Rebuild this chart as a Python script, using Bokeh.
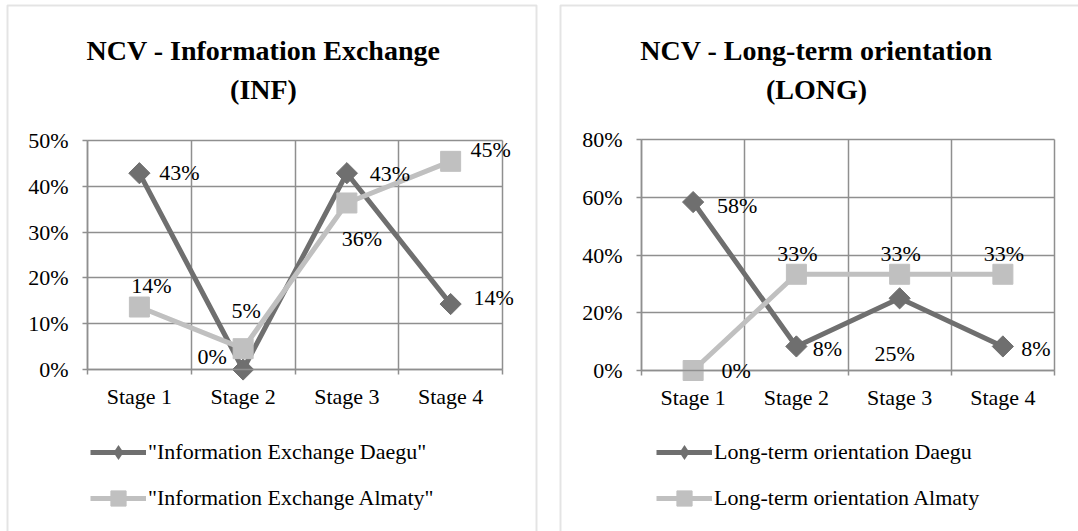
import math
from bokeh.plotting import figure
from bokeh.core.properties import value
from bokeh.models import (FixedTicker, NumeralTickFormatter, Label, LabelSet,
                          Legend, LegendItem, Range1d, ColumnDataSource, BoxAnnotation)
from bokeh.layouts import row
from bokeh.embed import file_html
from bokeh.resources import INLINE

# ---------------- data ----------------
stages = ["Stage 1", "Stage 2", "Stage 3", "Stage 4"]

inf_daegu = [0.4286, 0.0, 0.4286, 0.1429]
inf_almaty = [0.1364, 0.0455, 0.3636, 0.4545]
inf_yticks = [0.0, 0.1, 0.2, 0.3, 0.4, 0.5]

long_daegu = [0.5833, 0.0833, 0.25, 0.0833]
long_almaty = [0.0, 0.3333, 0.3333, 0.3333]
long_yticks = [0.0, 0.2, 0.4, 0.6, 0.8]

# data-label offsets (style, px: right, up)
inf_daegu_off = [(40, 1), (-31, 13), (43, 0), (43, 7)]
inf_almaty_off = [(12, 22), (3, 38), (15, -36), (40, 12)]
long_daegu_off = [(44, -3), (31, -2), (-5, -55), (33, -2)]
long_almaty_off = [(43, 0), (1, 21), (1, 21), (1, 21)]

DARK = "#6f6f6f"
LIGHT = "#c0c0c0"
GRID = "#8f8f8f"
PANEL = "#a6a6a6"
FONT = "Liberation Serif"
H = 531


def make_panel(title1, title2, W, yticks, daegu, almaty, d_off, a_off,
               d_name, a_name, area, panel_box, title_x, legend_x):
    n = len(stages)
    xs = [i + 1 for i in range(n)]
    x0, x1 = 0.5, n + 0.5
    y0, y1 = yticks[0], yticks[-1]
    pl, pr, pt, pb = area  # plot-area pixel box inside the canvas
    kx = (pr - pl) / (x1 - x0)
    ky = (pb - pt) / (y1 - y0)
    xr = Range1d(x0 - pl / kx, x1 + (W - pr) / kx)
    yr = Range1d(y0 - (H - pb) / ky, y1 + pt / ky)

    p = figure(width=W, height=H, x_range=xr, y_range=yr,
               output_backend="svg", toolbar_location=None,
               min_border_left=0, min_border_right=0,
               min_border_top=0, min_border_bottom=0)
    p.outline_line_color = None
    p.background_fill_color = "white"
    p.border_fill_color = "white"

    # panel border
    p.add_layout(BoxAnnotation(left=panel_box[0], right=panel_box[1],
                               top=H - panel_box[2], bottom=-10,
                               left_units="screen", right_units="screen",
                               top_units="screen", bottom_units="screen",
                               fill_alpha=0, fill_color=None,
                               line_color=PANEL, line_width=2))

    bounds_x = [x - 0.5 for x in xs] + [xs[-1] + 0.5]

    # x axis
    xa = p.xaxis[0]
    xa.fixed_location = y0
    xa.bounds = (x0, x1)
    xa.ticker = FixedTicker(ticks=xs, minor_ticks=bounds_x)
    xa.major_label_overrides = {x: s for x, s in zip(xs, stages)}
    xa.major_tick_line_color = None
    xa.major_tick_out = 0
    xa.major_tick_in = 0
    xa.minor_tick_out = 5
    xa.minor_tick_in = 0
    xa.minor_tick_line_color = GRID
    xa.minor_tick_line_width = 1.5
    xa.axis_line_color = GRID
    xa.axis_line_width = 1.5
    xa.major_label_standoff = 9
    xa.major_label_text_font = FONT
    xa.major_label_text_font_size = "22px"
    xa.major_label_text_color = "black"

    # y axis
    ya = p.yaxis[0]
    ya.fixed_location = x0
    ya.bounds = (y0, y1)
    ya.ticker = FixedTicker(ticks=yticks)
    ya.formatter = NumeralTickFormatter(format="0%")
    ya.major_tick_out = 5
    ya.major_tick_in = 0
    ya.major_tick_line_color = GRID
    ya.major_tick_line_width = 1.5
    ya.minor_tick_line_color = None
    ya.axis_line_color = GRID
    ya.axis_line_width = 1.5
    ya.major_label_standoff = 14
    ya.major_label_text_font = FONT
    ya.major_label_text_font_size = "22px"
    ya.major_label_text_color = "black"

    # grid limited to the plot area
    xg, yg = p.xgrid[0], p.ygrid[0]
    if "cross_bounds" in xg.properties():
        xg.ticker = FixedTicker(ticks=bounds_x)
        yg.ticker = FixedTicker(ticks=yticks)
        xg.cross_bounds = (y0, y1)
        yg.cross_bounds = (x0, x1)
        for g in (xg, yg):
            g.grid_line_color = GRID
            g.grid_line_width = 1.5
    else:
        xg.visible = False
        yg.visible = False
        p.segment(x0=bounds_x, y0=[y0] * len(bounds_x), x1=bounds_x,
                  y1=[y1] * len(bounds_x), line_color=GRID, line_width=1.5)
        p.segment(x0=[x0] * len(yticks), y0=yticks, x1=[x1] * len(yticks),
                  y1=yticks, line_color=GRID, line_width=1.5)

    # series
    l1 = p.line(xs, daegu, line_color=DARK, line_width=5)
    p.scatter(xs, daegu, marker="square", angle=math.pi / 4, size=15,
              fill_color=DARK, line_color=DARK)
    # zero-size diamond on the same points: gives the legend its diamond key
    k1 = p.scatter(xs, daegu, marker="diamond", size=0,
                   fill_color=DARK, line_color=DARK, line_width=0)
    l2 = p.line(xs, almaty, line_color=LIGHT, line_width=5)
    s2 = p.scatter(xs, almaty, marker="square", size=20,
                   fill_color=LIGHT, line_color=LIGHT)

    # data labels
    for vals, offs in ((daegu, d_off), (almaty, a_off)):
        src = ColumnDataSource(dict(
            x=xs, y=vals,
            t=[f"{round(v * 100)}%" for v in vals],
            dx=[o[0] for o in offs], dy=[o[1] for o in offs]))
        p.add_layout(LabelSet(x="x", y="y", text="t", source=src,
                              x_offset="dx", y_offset="dy",
                              text_align="center", text_baseline="middle",
                              text_font=value(FONT), text_font_size=value("22px"),
                              text_color="black"))

    # title (two lines)
    for txt, ty in ((title1, 50), (title2, 89)):
        p.add_layout(Label(x=title_x, y=H - ty, x_units="screen", y_units="screen",
                           text=txt, text_align="center", text_baseline="middle",
                           text_font=FONT, text_font_size="28px",
                           text_font_style="bold", text_color="black"))

    legend = Legend(items=[LegendItem(label=d_name, renderers=[l1, k1]),
                           LegendItem(label=a_name, renderers=[l2, s2])],
                    location=(legend_x, H - 84 - 433), orientation="vertical",
                    glyph_width=56, glyph_height=38, label_height=22,
                    label_standoff=2, spacing=8, padding=0, margin=0,
                    border_line_color=None, background_fill_alpha=0,
                    label_text_font=FONT, label_text_font_size="22px",
                    label_text_color="black", label_text_baseline="middle")
    p.add_layout(legend, "center")
    return p


p1 = make_panel("NCV - Information Exchange", "(INF)", 548, inf_yticks,
                inf_daegu, inf_almaty, inf_daegu_off, inf_almaty_off,
                '"Information Exchange Daegu"', '"Information Exchange Almaty"',
                (87, 502, 140, 369), (7, 536, 5), 263, 90)
p2 = make_panel("NCV - Long-term orientation", "(LONG)", 530, long_yticks,
                long_daegu, long_almaty, long_daegu_off, long_almaty_off,
                "Long-term orientation Daegu", "Long-term orientation Almaty",
                (93, 506, 139, 370), (12, 540, 5), 268, 108)

layout = row(p1, p2, spacing=0)
open("out.html", "w").write(file_html(layout, INLINE))
